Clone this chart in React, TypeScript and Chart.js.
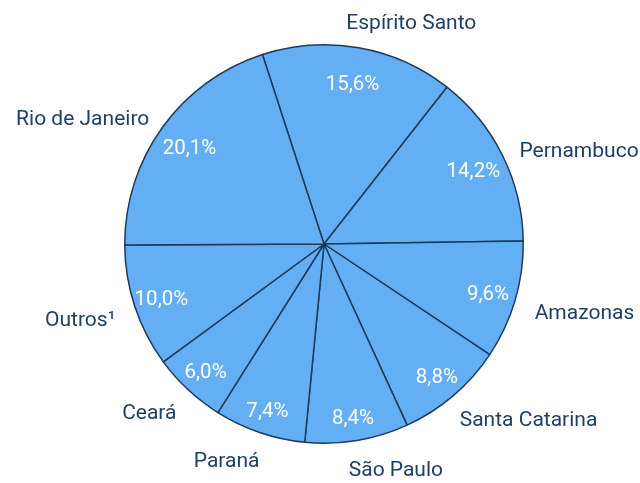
import React, { useEffect, useRef } from "react";
import { Chart, registerables } from "chart.js";

Chart.register(...registerables);

const categories = [
  "Espírito Santo",
  "Pernambuco",
  "Amazonas",
  "Santa Catarina",
  "São Paulo",
  "Paraná",
  "Ceará",
  "Outros¹",
  "Rio de Janeiro",
];
const shares = [15.6, 14.2, 9.6, 8.8, 8.4, 7.4, 6.0, 10.0, 20.1];

const FILL = "#64aff4";
const BORDER = "#1d3a5c";
const NAVY = "#1f3f66";

const labelPlugin = {
  id: "pieLabels",
  afterDatasetsDraw(chart: any) {
    const ctx = chart.ctx;
    const meta = chart.getDatasetMeta(0);
    ctx.save();
    meta.data.forEach((arc: any, i: number) => {
      const mid = (arc.startAngle + arc.endAngle) / 2;
      const cx = arc.x;
      const cy = arc.y;
      const R = arc.outerRadius;
      const dx = Math.cos(mid);
      const dy = Math.sin(mid);
      // percentage inside
      ctx.font = "400 20.5px Roboto";
      ctx.fillStyle = "#ffffff";
      ctx.textAlign = "center";
      ctx.textBaseline = "middle";
      const pct = shares[i].toFixed(1).replace(".", ",") + "%";
      const rp = R * (0.85 + 0.03 * dy);
      ctx.fillText(pct, cx + dx * rp, cy + dy * rp + 2);
      // category outside
      ctx.font = "400 21px Roboto";
      ctx.fillStyle = NAVY;
      ctx.textAlign = "left";
      const w = ctx.measureText(categories[i]).width;
      const r2 = R + 21;
      const ax = cx + dx * r2;
      const up = Math.max(0, -dy);
      const ay = cy + dy * r2 + 6 + 4 * Math.max(0, dy) - 10 * up * up * up * up;
      const k = 0.15 * (1 - Math.abs(dx));
      const x0 = dx >= 0 ? ax - w * k : ax - w + w * k;
      ctx.fillText(categories[i], x0, ay);
    });
    ctx.restore();
  },
};

export default function App() {
  const ref = useRef<HTMLCanvasElement>(null);
  useEffect(() => {
    if (!ref.current) return;
    const chart = new Chart(ref.current, {
      type: "pie",
      data: {
        labels: categories,
        datasets: [
          {
            data: shares,
            backgroundColor: FILL,
            borderColor: BORDER,
            borderWidth: 1.5,
          },
        ],
      },
      options: {
        animation: false,
        responsive: false,
        rotation: -18,
        layout: { padding: { left: 124, right: 116, top: 44, bottom: 39 } },
        plugins: {
          legend: { display: false },
          tooltip: { enabled: false },
        },
      },
      plugins: [labelPlugin],
    });
    return () => chart.destroy();
  }, []);
  return (
    <div style={{ position: "fixed", left: 0, top: 0, width: 640, height: 483, background: "#fff" }}>
      <canvas ref={ref} width={640} height={483} />
    </div>
  );
}
